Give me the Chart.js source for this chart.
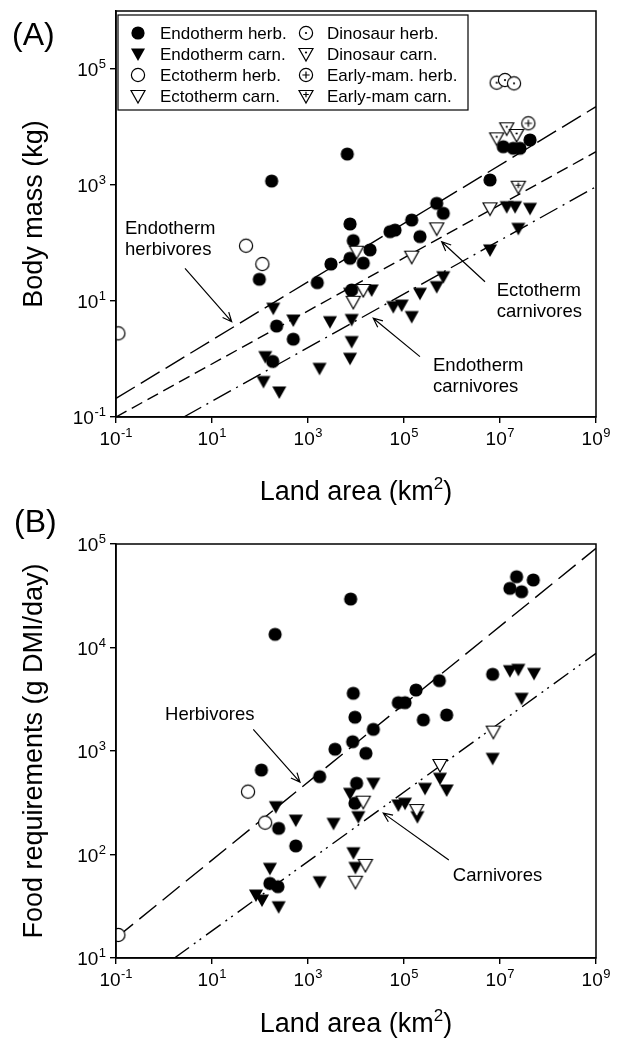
<!DOCTYPE html>
<html>
<head>
<meta charset="utf-8">
<script src="https://cdn.jsdelivr.net/npm/chart.js@4.4.0/dist/chart.umd.min.js"></script>
<style>
  html, body { margin: 0; padding: 0; background: #fff; }
  body { width: 618px; height: 1043px; position: relative; overflow: hidden; }
  canvas { position: absolute; left: 0; }
  #chartA { top: 0; }
  #chartB { top: 505px; }
</style>
</head>
<body>
<canvas id="chartA" width="618" height="505"></canvas>
<canvas id="chartB" width="618" height="538"></canvas>
<script>
// ---- data: [land area (km2), value] ----
const xTicks = [0.1, 10, 1e3, 1e5, 1e7, 1e9];
const yTicksA = [0.1, 10, 1e3, 1e5];
const yTicksB = [10, 100, 1e3, 1e4, 1e5];

// (A) body mass (kg)
const endoHerbA = [
  [6590, 3420], [175, 1170], [7500, 213], [8790, 110], [7500, 54.5], [3010, 43.4],
  [1560, 20.7], [96.8, 23.7], [222, 3.7], [494, 2.2], [184, 0.91], [8130, 15.5],
  [1.17e7, 4570], [1.89e7, 4300], [2.61e7, 4300], [4.22e7, 5970], [6.19e6, 1220],
  [480000, 483], [659000, 325], [145000, 249], [65000, 167], [51100, 157],
  [215000, 129], [19600, 76], [14200, 45]
];
const endoCarnA = [
  [189, 7.5], [494, 4.7], [2870, 4.4], [8130, 4.8], [8130, 2.0], [7500, 1.03],
  [1740, 0.69], [118, 0.41], [252, 0.27], [129, 1.1], [21200, 15.5], [7500, 13.6],
  [59800, 8.0], [89500, 8.5], [145000, 5.4], [215000, 13.6], [480000, 17.7],
  [659000, 26.2], [6.19e6, 76], [2.41e7, 179], [1.38e7, 423], [2.06e7, 423], [4.22e7, 396]
];
const ectoHerbA = [[51.1, 89.7], [112, 43.4], [0.112, 2.77]];
const ectoCarnA = [[8790, 9.7], [14200, 15.5], [10300, 70.8], [480000, 179], [145000, 58.1], [6.19e6, 396]];
const dinoHerbA = [[8.53e6, 58100], [1.27e7, 64600], [1.96e7, 56600]];
const dinoCarnA = [[8.53e6, 6380], [1.38e7, 9510], [2.22e7, 7280]];
const mamHerbA = [[3.89e7, 11600]];
const mamCarnA = [[2.41e7, 935]];
// regression lines (end points)
const endoHerbLineA = [[0.1, 0.209], [1e9, 22400]];
const ectoCarnLineA = [[0.1, 0.1], [1e9, 3750]];
const endoCarnLineA = [[2.58, 0.1], [1e9, 935]];

// (B) food requirements (g DMI/day)
const herbB = [
  [2.22e7, 48300], [4.94e7, 44900], [1.61e7, 37300], [2.82e7, 34600], [7740, 29400],
  [206, 13400], [8790, 3610], [9530, 2120], [8530, 1230], [3660, 1040],
  [23000, 1620], [76200, 2930], [105000, 2930], [178000, 3880], [545000, 4780],
  [253000, 2000], [774000, 2230], [7.03e6, 5510], [16100, 951], [10300, 488],
  [9530, 313], [107, 655], [1750, 565], [245, 179], [556, 121], [161, 52.6], [236, 48.9]
];
const carnB = [
  [1.61e7, 5970], [2.41e7, 6150], [5.11e7, 5620], [2.82e7, 3230], [7.03e6, 849],
  [562000, 545], [774000, 420], [274000, 436], [76200, 301], [105000, 313],
  [190000, 232], [23000, 488], [7500, 390], [11200, 232], [214, 290], [556, 215],
  [3400, 200], [8830, 104], [9730, 75], [1750, 54.6], [161, 73.5], [82.4, 40.6],
  [110, 36.3], [245, 31.3]
];
const ectoHerbB = [[0.112, 16.7], [56.4, 405], [128, 203]];
const ectoCarnB = [[7.26e6, 1540], [562000, 733], [184000, 269], [14200, 324], [15700, 79.3], [9730, 54.6]];
const herbLineB = [[0.1, 15.6], [1e9, 90800]];
const carnLineB = [[1.65, 10], [1e9, 8790]];

const FONT = '"Liberation Sans", Arial, Helvetica, sans-serif';

// ---- point symbols ----
const markerCache = {};
function marker(kind) {
  if (markerCache[kind]) return markerCache[kind];
  const s = 18, m = s / 2;
  const c = document.createElement('canvas');
  c.width = s; c.height = s;
  const g = c.getContext('2d');
  g.lineWidth = 1.2;
  g.strokeStyle = '#000';
  const circle = () => { g.beginPath(); g.arc(m, m, 6.6, 0, Math.PI * 2); };
  const tri = () => {
    g.beginPath(); g.moveTo(m - 7, m - 5.5); g.lineTo(m + 7, m - 5.5);
    g.lineTo(m, m + 7); g.closePath();
  };
  const isTri = kind === 'tri' || kind.startsWith('otri') || kind.startsWith('triDot') || kind.startsWith('triPlus');
  if (isTri) tri(); else circle();
  if (kind === 'dot' || kind === 'tri') {
    g.fillStyle = '#000'; g.fill();
  } else {
    g.fillStyle = '#fff'; g.fill(); g.stroke();
    const cy = isTri ? m - 1.5 : m;
    g.fillStyle = '#000';
    if (kind.endsWith('Dot')) {
      g.beginPath(); g.arc(m, cy, 1.1, 0, Math.PI * 2); g.fill();
    } else if (kind.endsWith('Plus')) {
      const r = isTri ? 2.8 : 3.6;
      g.beginPath();
      g.moveTo(m - r, cy); g.lineTo(m + r, cy);
      g.moveTo(m, cy - r); g.lineTo(m, cy + r);
      g.stroke();
    }
  }
  markerCache[kind] = c;
  return c;
}

const pts = arr => arr.map(([x, y]) => ({ x, y }));

function scatterSet(label, arr, kind, order) {
  return { type: 'scatter', label, data: pts(arr), pointStyle: marker(kind), pointRadius: 7, order };
}
function lineSet(label, arr, dash) {
  return {
    type: 'line', label, data: pts(arr), borderColor: '#000', borderWidth: 1.4,
    borderDash: dash, pointRadius: 0, fill: false, order: 20
  };
}

// ---- drawing helpers ----
function drawPow(ctx, exp, x, y, align) {
  ctx.font = '19px ' + FONT;
  const wb = ctx.measureText('10').width;
  ctx.font = '13px ' + FONT;
  const we = ctx.measureText(exp).width;
  const w = wb + we + 0.5;
  const x0 = align === 'right' ? x - w : x - w / 2;
  ctx.textAlign = 'left';
  ctx.textBaseline = 'alphabetic';
  ctx.font = '19px ' + FONT;
  ctx.fillText('10', x0, y);
  ctx.font = '13px ' + FONT;
  ctx.fillText(exp, x0 + wb + 0.5, y - 8);
}

function drawTitleX(ctx, cx, y, size) {
  const a = 'Land area (km', sup = '2', b = ')';
  const small = Math.round(size * 0.62);
  ctx.font = size + 'px ' + FONT;
  const wa = ctx.measureText(a).width, wb = ctx.measureText(b).width;
  ctx.font = small + 'px ' + FONT;
  const ws = ctx.measureText(sup).width;
  const x = cx - (wa + ws + wb) / 2;
  ctx.textAlign = 'left';
  ctx.textBaseline = 'alphabetic';
  ctx.font = size + 'px ' + FONT;
  ctx.fillText(a, x, y);
  ctx.font = small + 'px ' + FONT;
  ctx.fillText(sup, x + wa, y - size * 0.42);
  ctx.font = size + 'px ' + FONT;
  ctx.fillText(b, x + wa + ws, y);
}

function drawArrow(ctx, x1, y1, x2, y2) {
  const ang = Math.atan2(y2 - y1, x2 - x1), h = 10, spread = 0.42;
  ctx.beginPath();
  ctx.moveTo(x1, y1); ctx.lineTo(x2, y2);
  ctx.moveTo(x2 - h * Math.cos(ang - spread), y2 - h * Math.sin(ang - spread));
  ctx.lineTo(x2, y2);
  ctx.lineTo(x2 - h * Math.cos(ang + spread), y2 - h * Math.sin(ang + spread));
  ctx.stroke();
}

const deco = {
  id: 'deco',
  afterDraw(chart) {
    const o = chart.options.plugins.deco;
    const { ctx, chartArea: a } = chart;
    const sx = chart.scales.x, sy = chart.scales.y;
    ctx.save();
    ctx.strokeStyle = '#000';
    ctx.fillStyle = '#000';
    ctx.lineWidth = 1.5;
    ctx.strokeRect(a.left, a.top, a.right - a.left, a.bottom - a.top);

    o.yTicks.forEach(v => {
      drawPow(ctx, String(Math.round(Math.log10(v))), a.left - 10, sy.getPixelForValue(v) + 7, 'right');
    });
    o.xTicks.forEach(v => {
      drawPow(ctx, String(Math.round(Math.log10(v))), sx.getPixelForValue(v), a.bottom + 28, 'center');
    });

    drawTitleX(ctx, (a.left + a.right) / 2, o.xTitleY, 27);

    ctx.save();
    ctx.translate(35, (a.top + a.bottom) / 2);
    ctx.rotate(-Math.PI / 2);
    ctx.font = '27px ' + FONT;
    ctx.textAlign = 'center';
    ctx.textBaseline = 'middle';
    ctx.fillText(o.yTitle, 0, 0);
    ctx.restore();

    ctx.font = '32px ' + FONT;
    ctx.textAlign = 'left';
    ctx.textBaseline = 'alphabetic';
    ctx.fillText(o.panel, o.panelPos[0], o.panelPos[1]);

    // annotations: labels with arrows
    ctx.lineWidth = 1.2;
    o.notes.forEach(n => {
      ctx.font = '18.5px ' + FONT;
      ctx.textAlign = 'left';
      ctx.textBaseline = 'middle';
      const tx = sx.getPixelForValue(n.at[0]), ty = sy.getPixelForValue(n.at[1]);
      n.lines.forEach((t, i) => ctx.fillText(t, tx, ty + i * 21));
      drawArrow(ctx, sx.getPixelForValue(n.from[0]), sy.getPixelForValue(n.from[1]),
        sx.getPixelForValue(n.to[0]), sy.getPixelForValue(n.to[1]));
    });

    // legend box inside the plot
    if (o.legend) {
      const L = o.legend;
      ctx.fillStyle = '#fff';
      ctx.fillRect(L.box[0], L.box[1], L.box[2], L.box[3]);
      ctx.fillStyle = '#000';
      ctx.lineWidth = 1.2;
      ctx.strokeRect(L.box[0], L.box[1], L.box[2], L.box[3]);
      ctx.font = '17px ' + FONT;
      ctx.textBaseline = 'middle';
      L.items.forEach(it => {
        const col = L.cols[it.col], y = L.rows[it.row];
        const img = marker(it.kind);
        ctx.drawImage(img, col[0] - img.width / 2, y - img.height / 2);
        ctx.fillText(it.text, col[1], y + 1);
      });
    }
    ctx.restore();
  }
};

function axis(min, max, ticks, fit) {
  return {
    type: 'logarithmic', min, max,
    afterBuildTicks: s => { s.ticks = ticks.map(v => ({ value: v })); },
    afterFit: fit,
    ticks: { display: false },
    grid: { display: true, drawOnChartArea: false, drawTicks: true, tickLength: 6, color: '#000', lineWidth: 1.4 },
    border: { display: true, color: '#000', width: 1.5 }
  };
}

Chart.register(deco);

new Chart(document.getElementById('chartA'), {
  type: 'scatter',
  data: {
    datasets: [
      scatterSet('Early-mam carn.', mamCarnA, 'triPlus', 1),
      scatterSet('Early-mam. herb.', mamHerbA, 'circlePlus', 1),
      scatterSet('Dinosaur carn.', dinoCarnA, 'triDot', 1),
      scatterSet('Dinosaur herb.', dinoHerbA, 'circleDot', 1),
      scatterSet('Ectotherm carn.', ectoCarnA, 'otri', 2),
      scatterSet('Ectotherm herb.', ectoHerbA, 'circle', 3),
      scatterSet('Endotherm carn.', endoCarnA, 'tri', 4),
      scatterSet('Endotherm herb.', endoHerbA, 'dot', 5),
      lineSet('Endotherm herbivores', endoHerbLineA, [22, 7]),
      lineSet('Ectotherm carnivores', ectoCarnLineA, [12, 6]),
      lineSet('Endotherm carnivores', endoCarnLineA, [20, 6, 2, 6])
    ]
  },
  options: {
    responsive: false, animation: false, devicePixelRatio: 1,
    layout: { padding: { left: 0, right: 22, top: 11, bottom: 0 } },
    scales: {
      x: axis(0.1, 1e9, xTicks, s => { s.height = 88; }),
      y: axis(0.1, 1e6, yTicksA, s => { s.width = 116; })
    },
    plugins: {
      legend: { display: false },
      tooltip: { enabled: false },
      deco: {
        yTicks: yTicksA, xTicks, xTitleY: 500,
        yTitle: 'Body mass (kg)', panel: '(A)', panelPos: [12, 45],
        notes: [
          { lines: ['Endotherm', 'herbivores'], at: [0.154, 174], from: [2.74, 36.6], to: [25.7, 4.4] },
          { lines: ['Ectotherm', 'carnivores'], at: [8.53e6, 15.0], from: [4.87e6, 21.5], to: [610000, 105] },
          { lines: ['Endotherm', 'carnivores'], at: [402000, 0.757], from: [215000, 1.1], to: [22900, 5.04] }
        ],
        legend: {
          box: [118, 15, 350, 95],
          rows: [33, 54, 75, 96],
          cols: [[138, 160], [306, 327]],
          items: [
            { kind: 'dot', text: 'Endotherm herb.', col: 0, row: 0 },
            { kind: 'tri', text: 'Endotherm carn.', col: 0, row: 1 },
            { kind: 'circle', text: 'Ectotherm herb.', col: 0, row: 2 },
            { kind: 'otri', text: 'Ectotherm carn.', col: 0, row: 3 },
            { kind: 'circleDot', text: 'Dinosaur herb.', col: 1, row: 0 },
            { kind: 'triDot', text: 'Dinosaur carn.', col: 1, row: 1 },
            { kind: 'circlePlus', text: 'Early-mam. herb.', col: 1, row: 2 },
            { kind: 'triPlus', text: 'Early-mam carn.', col: 1, row: 3 }
          ]
        }
      }
    }
  }
});

new Chart(document.getElementById('chartB'), {
  type: 'scatter',
  data: {
    datasets: [
      scatterSet('Ectotherm carn.', ectoCarnB, 'otri', 2),
      scatterSet('Ectotherm herb.', ectoHerbB, 'circle', 3),
      scatterSet('Carnivores', carnB, 'tri', 4),
      scatterSet('Herbivores', herbB, 'dot', 5),
      lineSet('Herbivores line', herbLineB, [22, 8]),
      lineSet('Carnivores line', carnLineB, [18, 6, 2, 5, 2, 6])
    ]
  },
  options: {
    responsive: false, animation: false, devicePixelRatio: 1,
    layout: { padding: { left: 0, right: 22, top: 39, bottom: 0 } },
    scales: {
      x: axis(0.1, 1e9, xTicks, s => { s.height = 85; }),
      y: axis(10, 1e5, yTicksB, s => { s.width = 116; })
    },
    plugins: {
      legend: { display: false },
      tooltip: { enabled: false },
      deco: {
        yTicks: yTicksB, xTicks, xTitleY: 527,
        yTitle: 'Food requirements (g DMI/day)', panel: '(B)', panelPos: [14, 27],
        notes: [
          { lines: ['Herbivores'], at: [1.05, 2230], from: [72.4, 1620], to: [681, 500] },
          { lines: ['Carnivores'], at: [1.04e6, 62.2], from: [859000, 88.5], to: [37000, 251] }
        ]
      }
    }
  }
});
</script>
</body>
</html>
